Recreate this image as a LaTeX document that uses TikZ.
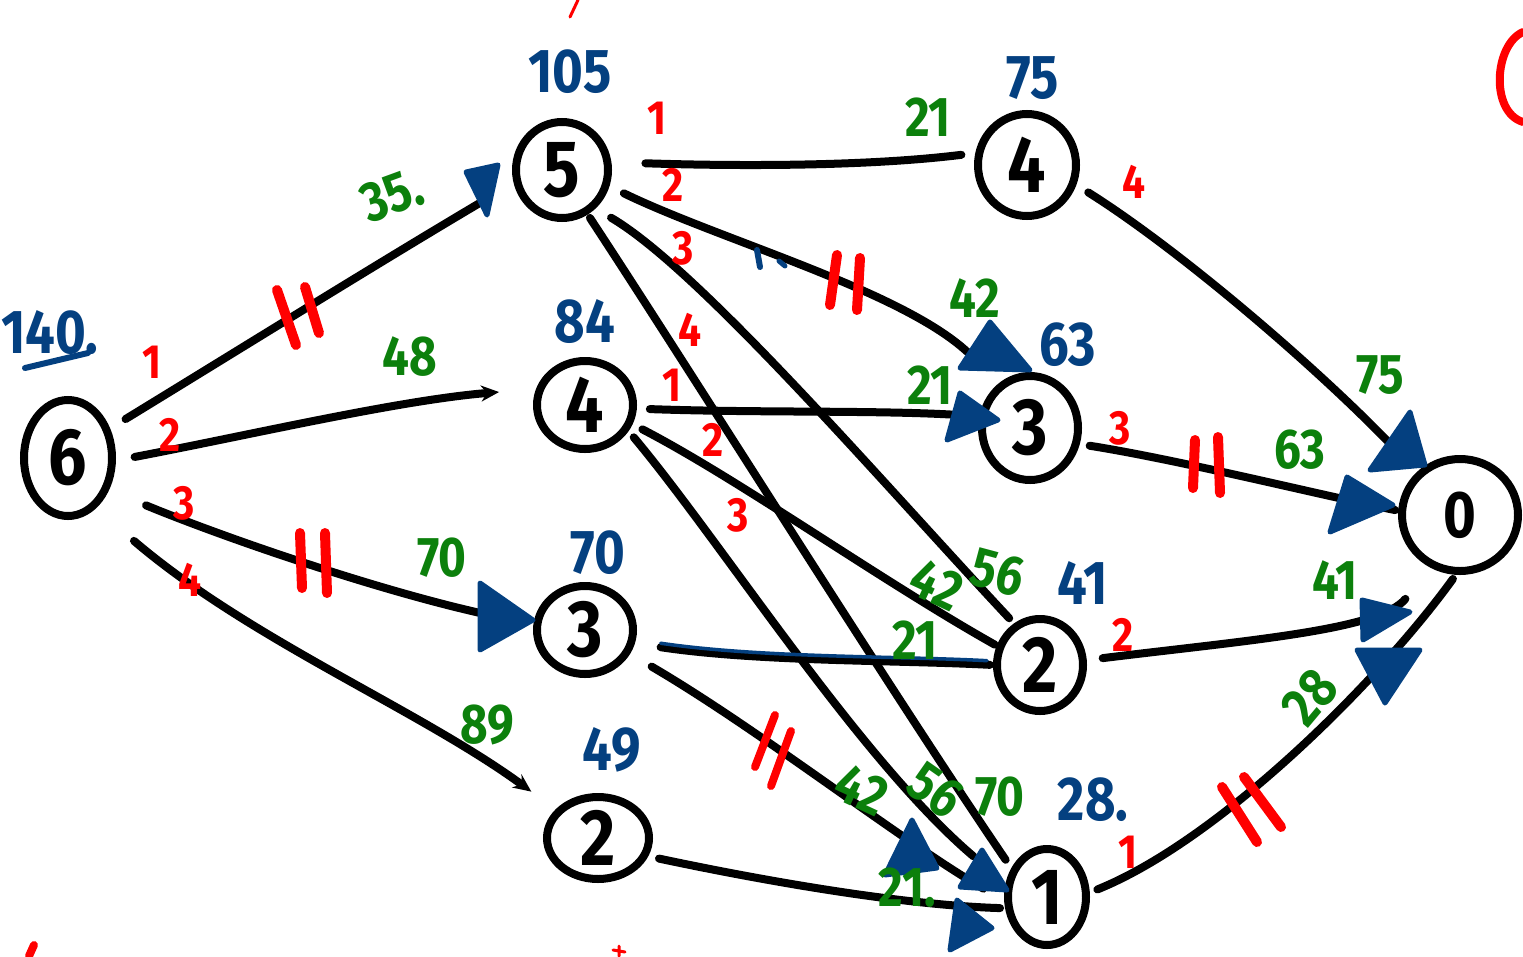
\documentclass[tikz,border=0pt]{standalone}
\usepackage{fontspec}
\newfontfamily\hand[FakeStretch=0.85]{Fira Sans}
\usetikzlibrary{shapes.geometric,arrows.meta}
\definecolor{hred}{RGB}{255,0,0}
\definecolor{hgreen}{RGB}{12,128,12}
\definecolor{hblue}{RGB}{4,64,128}

\begin{document}
\begin{tikzpicture}[x=1pt,y=-1pt,
  vertex/.style={ellipse, draw=black, line width=8pt, inner sep=0pt,
    font=\hand\bfseries\fontsize{80}{80}\selectfont},
  link/.style={draw=black, line width=8pt, line cap=round, line join=round},
  capacity/.style={text=hblue, inner sep=0pt, font=\hand\bfseries\fontsize{62}{62}\selectfont},
  flowval/.style={text=hgreen, inner sep=0pt, font=\hand\bfseries\fontsize{56}{56}\selectfont},
  arcidx/.style={text=hred, inner sep=0pt, font=\hand\bfseries\fontsize{48}{48}\selectfont},
  satmark/.style={draw=hred, line width=10pt, line cap=round},
  bluehead/.style={fill=hblue, draw=hblue, line width=5pt, line join=round},
  smalltip/.style={-{Stealth[length=18pt,width=16pt]}},
]
\useasboundingbox (0,0) rectangle (1523,956);

% ---------- vertices ----------
\node[vertex, minimum width=88pt, minimum height=116pt] (n6)  at (68,458)   {6};
\node[vertex, minimum width=92pt, minimum height=96pt]  (n5)  at (562,170)  {5};
\node[vertex, minimum width=98pt, minimum height=102pt] (n4a) at (1027,165)  {4};
\node[vertex, minimum width=96pt, minimum height=88pt]  (n4b) at (585,405)  {4};
\node[vertex, minimum width=96pt, minimum height=104pt] (n3a) at (1030,428)  {3};
\node[vertex, minimum width=96pt, minimum height=88pt]  (n3b) at (585,630)  {3};
\node[vertex, minimum width=86pt, minimum height=92pt]  (n2a) at (1040,665)  {2};
\node[vertex, minimum width=102pt, minimum height=82pt] (n2b) at (598,838)  {2};
\node[vertex, minimum width=78pt, minimum height=96pt]  (n1)  at (1047,897)  {1};
\node[vertex, minimum width=116pt, minimum height=112pt,
      font=\hand\bfseries\fontsize{66}{66}\selectfont] (n0) at (1460,515) {0};

% ---------- arcs ----------
\draw[link, shorten <=18pt, shorten >=35pt] (n6.35) .. controls (245,346) and (380,262) .. (n5.195);
\draw[link, smalltip, shorten <=19pt, shorten >=37pt] (n6.357) .. controls (250,435) and (400,400) .. (n4b.162);
\draw[link, shorten <=40pt, shorten >=28pt] (n6.322) .. controls (230,540) and (400,598) .. (n3b.173);
\draw[link, smalltip, shorten <=50pt, shorten >=30pt] (n6.299) .. controls (250,640) and (420,710) .. (n2b.146);
\draw[link, shorten <=34pt, shorten >=14pt] (n5.9) .. controls (760,167) and (880,165) .. (n4a.167);
\draw[link, shorten <=16pt, shorten >=45pt] (n5.341) .. controls (720,240) and (900,290) .. (n3a.123);
\draw[link, shorten <=18pt, shorten >=7pt] (n5.311) .. controls (700,270) and (880,480) .. (n2a.122);
\draw[link, shorten <=4pt, shorten >=10pt] (n5.300) .. controls (690,370) and (890,690) .. (n1.141);
\draw[link, shorten <=13pt, shorten >=19pt] (n4b.356) .. controls (760,413) and (880,410) .. (n3a.167);
\draw[link, shorten <=11pt, shorten >=2pt] (n4b.338) .. controls (740,480) and (880,580) .. (n2a.156);
\draw[link, shorten <=8pt, shorten >=42pt] (n4b.329) .. controls (720,540) and (860,760) .. (n1.162);
\draw[link, shorten <=26pt, shorten >=3pt] (n3b.345) .. controls (760,662) and (900,660) .. (n2a.180);
\draw[hblue, line width=3.5pt, line cap=round, transform canvas={yshift=4pt},
      shorten <=26pt, shorten >=6pt] (n3b.345) .. controls (760,662) and (900,660) .. (n2a.180);
\draw[link, shorten <=25pt, shorten >=24pt] (n3b.332) .. controls (760,730) and (900,840) .. (n1.185);
\draw[link, shorten <=11pt, shorten >=5pt] (n2b.340) .. controls (760,880) and (900,905) .. (n1.195);
\draw[link, shorten <=14pt, shorten >=31pt] (n4a.338) .. controls (1180,250) and (1320,370) .. (n0.135);
\draw[link, shorten <=10pt, shorten >=3pt] (n3a.342) .. controls (1180,460) and (1320,495) .. (n0.176);
\draw[link, shorten <=16pt, shorten >=40pt] (n2a.6) .. controls (1250,640) and (1380,630) .. (n0.241);
\draw[link, shorten <=8pt, shorten >=5pt] (n1.6) .. controls (1220,840) and (1380,680) .. (n0.266);

% ---------- arrow heads ----------
\filldraw[bluehead] (466,172) -- (498,165) -- (487,215) -- cycle;
\filldraw[bluehead] (960,368) -- (990,322) -- (1030,370) -- cycle;
\filldraw[bluehead] (947,440) -- (960,393) -- (998,420) -- cycle;
\filldraw[bluehead] (480,583) -- (480,650) -- (533,620) -- cycle;
\filldraw[bluehead] (1410,412) -- (1425,465) -- (1370,470) -- cycle;
\filldraw[bluehead] (1347,477) -- (1393,505) -- (1330,532) -- cycle;
\filldraw[bluehead] (1362,600) -- (1410,612) -- (1363,640) -- cycle;
\filldraw[bluehead] (1357,650) -- (1420,650) -- (1385,703) -- cycle;
\filldraw[bluehead] (912,820) -- (885,875) -- (937,868) -- cycle;
\filldraw[bluehead] (982,850) -- (960,887) -- (1007,890) -- cycle;
\filldraw[bluehead] (957,900) -- (950,950) -- (992,928) -- cycle;
\draw[hblue, line width=6pt, line cap=round] (757,250) -- (760,267);
\draw[hblue, line width=5pt, line cap=round] (779,261) -- (785,266);

% ---------- saturated-arc marks ----------
\draw[satmark] (277,290) -- (296,345);  \draw[satmark] (305,287) -- (319,333);
\draw[satmark] (300,533) -- (302,588);  \draw[satmark] (325,533) -- (327,593);
\draw[satmark] (837,255) -- (830,305);  \draw[satmark] (860,258) -- (857,310);
\draw[satmark] (1195,440) -- (1193,488); \draw[satmark] (1218,437) -- (1220,493);
\draw[satmark, line width=8pt] (775,715) -- (755,767); \draw[satmark, line width=8pt] (791,731) -- (771,786);
\draw[satmark] (1222,787) -- (1257,842); \draw[satmark] (1244,777) -- (1281,827);

% ---------- arc indices ----------
\node[arcidx] (i61) at (152,362) {1};
\node[arcidx] (i62) at (170,435) {2};
\node[arcidx] (i63) at (184,503) {3};
\node[arcidx] (i64) at (190,580) {4};
\node[arcidx] (i51) at (657,118) {1};
\node[arcidx] (i52) at (673,185) {2};
\node[arcidx] (i53) at (683,248) {3};
\node[arcidx] (i54) at (690,330) {4};
\node[arcidx] (i41) at (672,385) {1};
\node[arcidx] (i42) at (713,440) {2};
\node[arcidx] (i43) at (738,515) {3};
\node[arcidx] (i44) at (1134,182) {4};
\node[arcidx] (i33) at (1120,428) {3};
\node[arcidx] (i22) at (1123,635) {2};
\node[arcidx] (i11) at (1128,852) {1};

% ---------- flows ----------
\node[flowval, rotate=20] (f65) at (392,195) {35.};
\node[flowval] (f64) at (410,357) {48};
\node[flowval] (f63) at (442,558) {70};
\node[flowval] (f62) at (487,725) {89};
\node[flowval] (f54) at (928,117) {21};
\node[flowval] (f53) at (975,298) {42};
\node[flowval] (f43) at (930,385) {21};
\node[flowval, rotate=-25] (f42) at (937,585) {42};
\node[flowval, rotate=-15] (f52) at (998,572) {56};
\node[flowval] (f32) at (915,640) {21};
\node[flowval] (f30) at (1300,450) {63};
\node[flowval] (f40) at (1380,375) {75};
\node[flowval] (f20) at (1335,580) {41};
\node[flowval, rotate=50] (f10) at (1310,697) {28};
\node[flowval, rotate=-25] (f31) at (862,790) {42};
\node[flowval, rotate=-35] (f41) at (936,790) {56};
\node[flowval] (f51) at (1000,797) {70};
\node[flowval] (f21) at (907,888) {21.};

% ---------- vertex labels ----------
\node[capacity] (c6) at (50,333) {140.};
\draw[hblue, line width=6pt, line cap=round] (25,368) -- (88,353);
\node[capacity] (c5) at (570,72) {105};
\node[capacity] (c4a) at (1033,78) {75};
\node[capacity] (c4b) at (585,322) {84};
\node[capacity] (c3a) at (1068,345) {63};
\node[capacity] (c3b) at (598,553) {70};
\node[capacity] (c2a) at (1083,583) {41};
\node[capacity] (c2b) at (612,750) {49};
\node[capacity] (c1) at (1093,800) {28.};

% ---------- loose marker strokes at the borders ----------
\draw[hred, line width=3pt, line cap=round] (578,0) -- (570,17);
\draw[hred, line width=8pt, line cap=round] (1523,32) .. controls (1494,45) and (1490,112) .. (1523,122);
\draw[hred, line width=8pt, line cap=round] (34,945) -- (29,956);
\draw[hred, line width=3pt, line cap=round] (619,946) -- (619,956) (613,950) -- (625,952);
\end{tikzpicture}
\end{document}
